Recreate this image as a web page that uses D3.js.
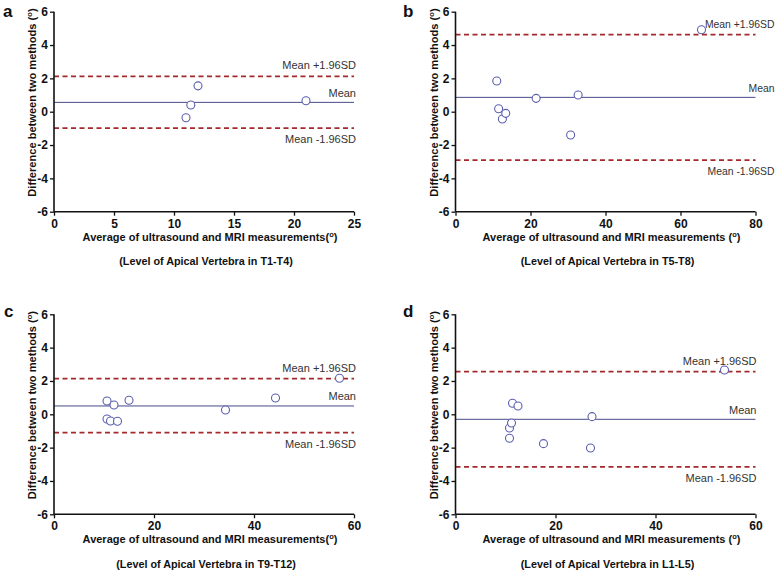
<!DOCTYPE html>
<html>
<head>
<meta charset="utf-8">
<script src="https://cdn.jsdelivr.net/npm/d3@7"></script>
<style>
  html, body { margin: 0; padding: 0; background: #fff; }
  svg { display: block; }
  text { font-family: Arial, "Liberation Sans", sans-serif; }
</style>
</head>
<body>
<svg id="chart" width="782" height="573"></svg>
<script>
// ---------- data ----------
const panelLetters = ["a", "b", "c", "d"];
const subtitles = [
  "(Level of Apical Vertebra in T1-T4)",
  "(Level of Apical Vertebra in T5-T8)",
  "(Level of Apical Vertebra in T9-T12)",
  "(Level of Apical Vertebra in L1-L5)"
];
const xMaxes = [25, 80, 60, 60];
const xTicksA = [0, 5, 10, 15, 20, 25];
const xTicksB = [0, 20, 40, 60, 80];
const xTicksC = [0, 20, 40, 60];
const xTicksD = [0, 20, 40, 60];
const yTicks = [-6, -4, -2, 0, 2, 4, 6];

const avgA = [11.0, 11.4, 12.0, 21.0];
const diffA = [-0.36, 0.40, 1.55, 0.66];
const avgB = [11.0, 11.5, 12.5, 13.4, 21.5, 30.7, 32.7, 65.6];
const diffB = [1.84, 0.18, -0.44, -0.10, 0.80, -1.40, 1.00, 4.92];
const avgC = [10.6, 10.6, 11.3, 12.0, 12.7, 15.0, 34.3, 44.3, 57.1];
const diffC = [0.80, -0.28, -0.40, 0.56, -0.42, 0.84, 0.26, 0.98, 2.16];
const avgD = [10.8, 10.8, 11.2, 11.4, 12.5, 17.6, 27.0, 27.3, 53.8];
const diffD = [-0.82, -1.44, -0.52, 0.66, 0.50, -1.76, -2.02, -0.14, 2.66];

const meanDiff = [0.56, 0.86, 0.50, -0.30];
const upperLoA = [2.12, 4.62, 2.14, 2.56];
const lowerLoA = [-0.98, -2.90, -1.10, -3.16];

const xTitle = "Average of ultrasound and MRI measurements";
const yTitle = "Difference between two methods ";

// ---------- layout ----------
const svg = d3.select("#chart");
const W = 300, H = 200;
const layout = [
  { left: 54, top: 11.7, labelShift: 2, labelSize: 11, letterX: 3, letterY: 17.3 },
  { left: 455.5, top: 11.7, labelShift: 19, labelSize: 10.4, letterX: 403, letterY: 17.3 },
  { left: 54, top: 314.3, labelShift: 2, labelSize: 11, letterX: 4, letterY: 316.5 },
  { left: 455.5, top: 314.3, labelShift: 1, labelSize: 11, letterX: 403, letterY: 316.5 }
];
const xTicksAll = [xTicksA, xTicksB, xTicksC, xTicksD];
const avgAll = [avgA, avgB, avgC, avgD];
const diffAll = [diffA, diffB, diffC, diffD];

const meanColor = "#464b88";
const loaColor = "#a5282c";
const ptColor = "#5b5fae";
const fmt = d => String(d);

layout.forEach((L, i) => {
  // panel letter
  svg.append("text")
    .attr("x", L.letterX).attr("y", L.letterY)
    .attr("font-size", 17).attr("font-weight", "bold")
    .attr("fill", "#111")
    .text(panelLetters[i]);

  const g = svg.append("g").attr("transform", `translate(${L.left},${L.top})`);
  const x = d3.scaleLinear().domain([0, xMaxes[i]]).range([0, W]);
  const y = d3.scaleLinear().domain([-6, 6]).range([H, 0]);

  // reference lines
  g.append("line")
    .attr("x1", 0).attr("x2", W)
    .attr("y1", y(meanDiff[i])).attr("y2", y(meanDiff[i]))
    .attr("stroke", meanColor).attr("stroke-width", 1);
  [upperLoA[i], lowerLoA[i]].forEach(v => {
    g.append("line")
      .attr("x1", 0).attr("x2", W)
      .attr("y1", y(v)).attr("y2", y(v))
      .attr("stroke", loaColor).attr("stroke-width", 1.8)
      .attr("stroke-dasharray", "5,3.5");
  });

  // labels of reference lines
  const lx = W + L.labelShift;
  const lab = (yy, t) => g.append("text")
    .attr("x", lx).attr("y", yy)
    .attr("text-anchor", "end")
    .attr("font-size", L.labelSize).attr("fill", "#333")
    .text(t);
  lab(y(upperLoA[i]) - 7, "Mean +1.96SD");
  lab(y(meanDiff[i]) - 5.5, "Mean");
  lab(y(lowerLoA[i]) + 15, "Mean -1.96SD");

  // points
  g.selectAll("circle.pt")
    .data(avgAll[i].map((a, k) => [a, diffAll[i][k]]))
    .enter().append("circle")
    .attr("class", "pt")
    .attr("cx", d => x(d[0])).attr("cy", d => y(d[1]))
    .attr("r", 4)
    .attr("fill", "#fff")
    .attr("stroke", ptColor).attr("stroke-width", 1.1);

  // axes
  const xAxis = g.append("g").attr("transform", `translate(0,${H})`)
    .call(d3.axisBottom(x).tickValues(xTicksAll[i]).tickSize(4).tickPadding(3.5).tickFormat(fmt));
  const yAxis = g.append("g")
    .call(d3.axisLeft(y).tickValues(yTicks).tickSize(4).tickPadding(2).tickFormat(fmt));
  [xAxis, yAxis].forEach(ax => {
    ax.select(".domain").attr("stroke", "#111").attr("stroke-width", 1.6);
    ax.selectAll(".tick line").attr("stroke", "#111").attr("stroke-width", 1.3);
    ax.selectAll(".tick text").attr("font-size", 12).attr("font-weight", "bold")
      .attr("fill", "#111").attr("font-family", "Arial, 'Liberation Sans', sans-serif");
  });
  xAxis.select(".domain").attr("d", `M0,0H${W}`);
  yAxis.select(".domain").attr("d", `M0,0V${H}`);

  // x title
  const xt = g.append("text")
    .attr("x", W / 2 + 6).attr("y", H + 29)
    .attr("text-anchor", "middle")
    .attr("font-size", 11).attr("font-weight", "bold").attr("fill", "#111");
  xt.append("tspan").text(xTitle + (i === 1 || i === 3 ? " (" : "("));
  xt.append("tspan").attr("font-size", 7.5).attr("dy", -4).text("o");
  xt.append("tspan").attr("dy", 4).text(")");

  // subtitle
  g.append("text")
    .attr("x", W / 2 + 2).attr("y", H + 53.5)
    .attr("text-anchor", "middle")
    .attr("font-size", 10.8).attr("font-weight", "bold").attr("fill", "#111")
    .text(subtitles[i]);

  // y title
  const yt = g.append("text")
    .attr("transform", `translate(-18,${H - 15}) rotate(-90)`)
    .attr("text-anchor", "start")
    .attr("font-size", 11.1).attr("font-weight", "bold").attr("fill", "#111");
  yt.append("tspan").text(yTitle + "(");
  yt.append("tspan").attr("font-size", 7.5).attr("dy", -4).text("o");
  yt.append("tspan").attr("dy", 4).text(")");
});
</script>
</body>
</html>
